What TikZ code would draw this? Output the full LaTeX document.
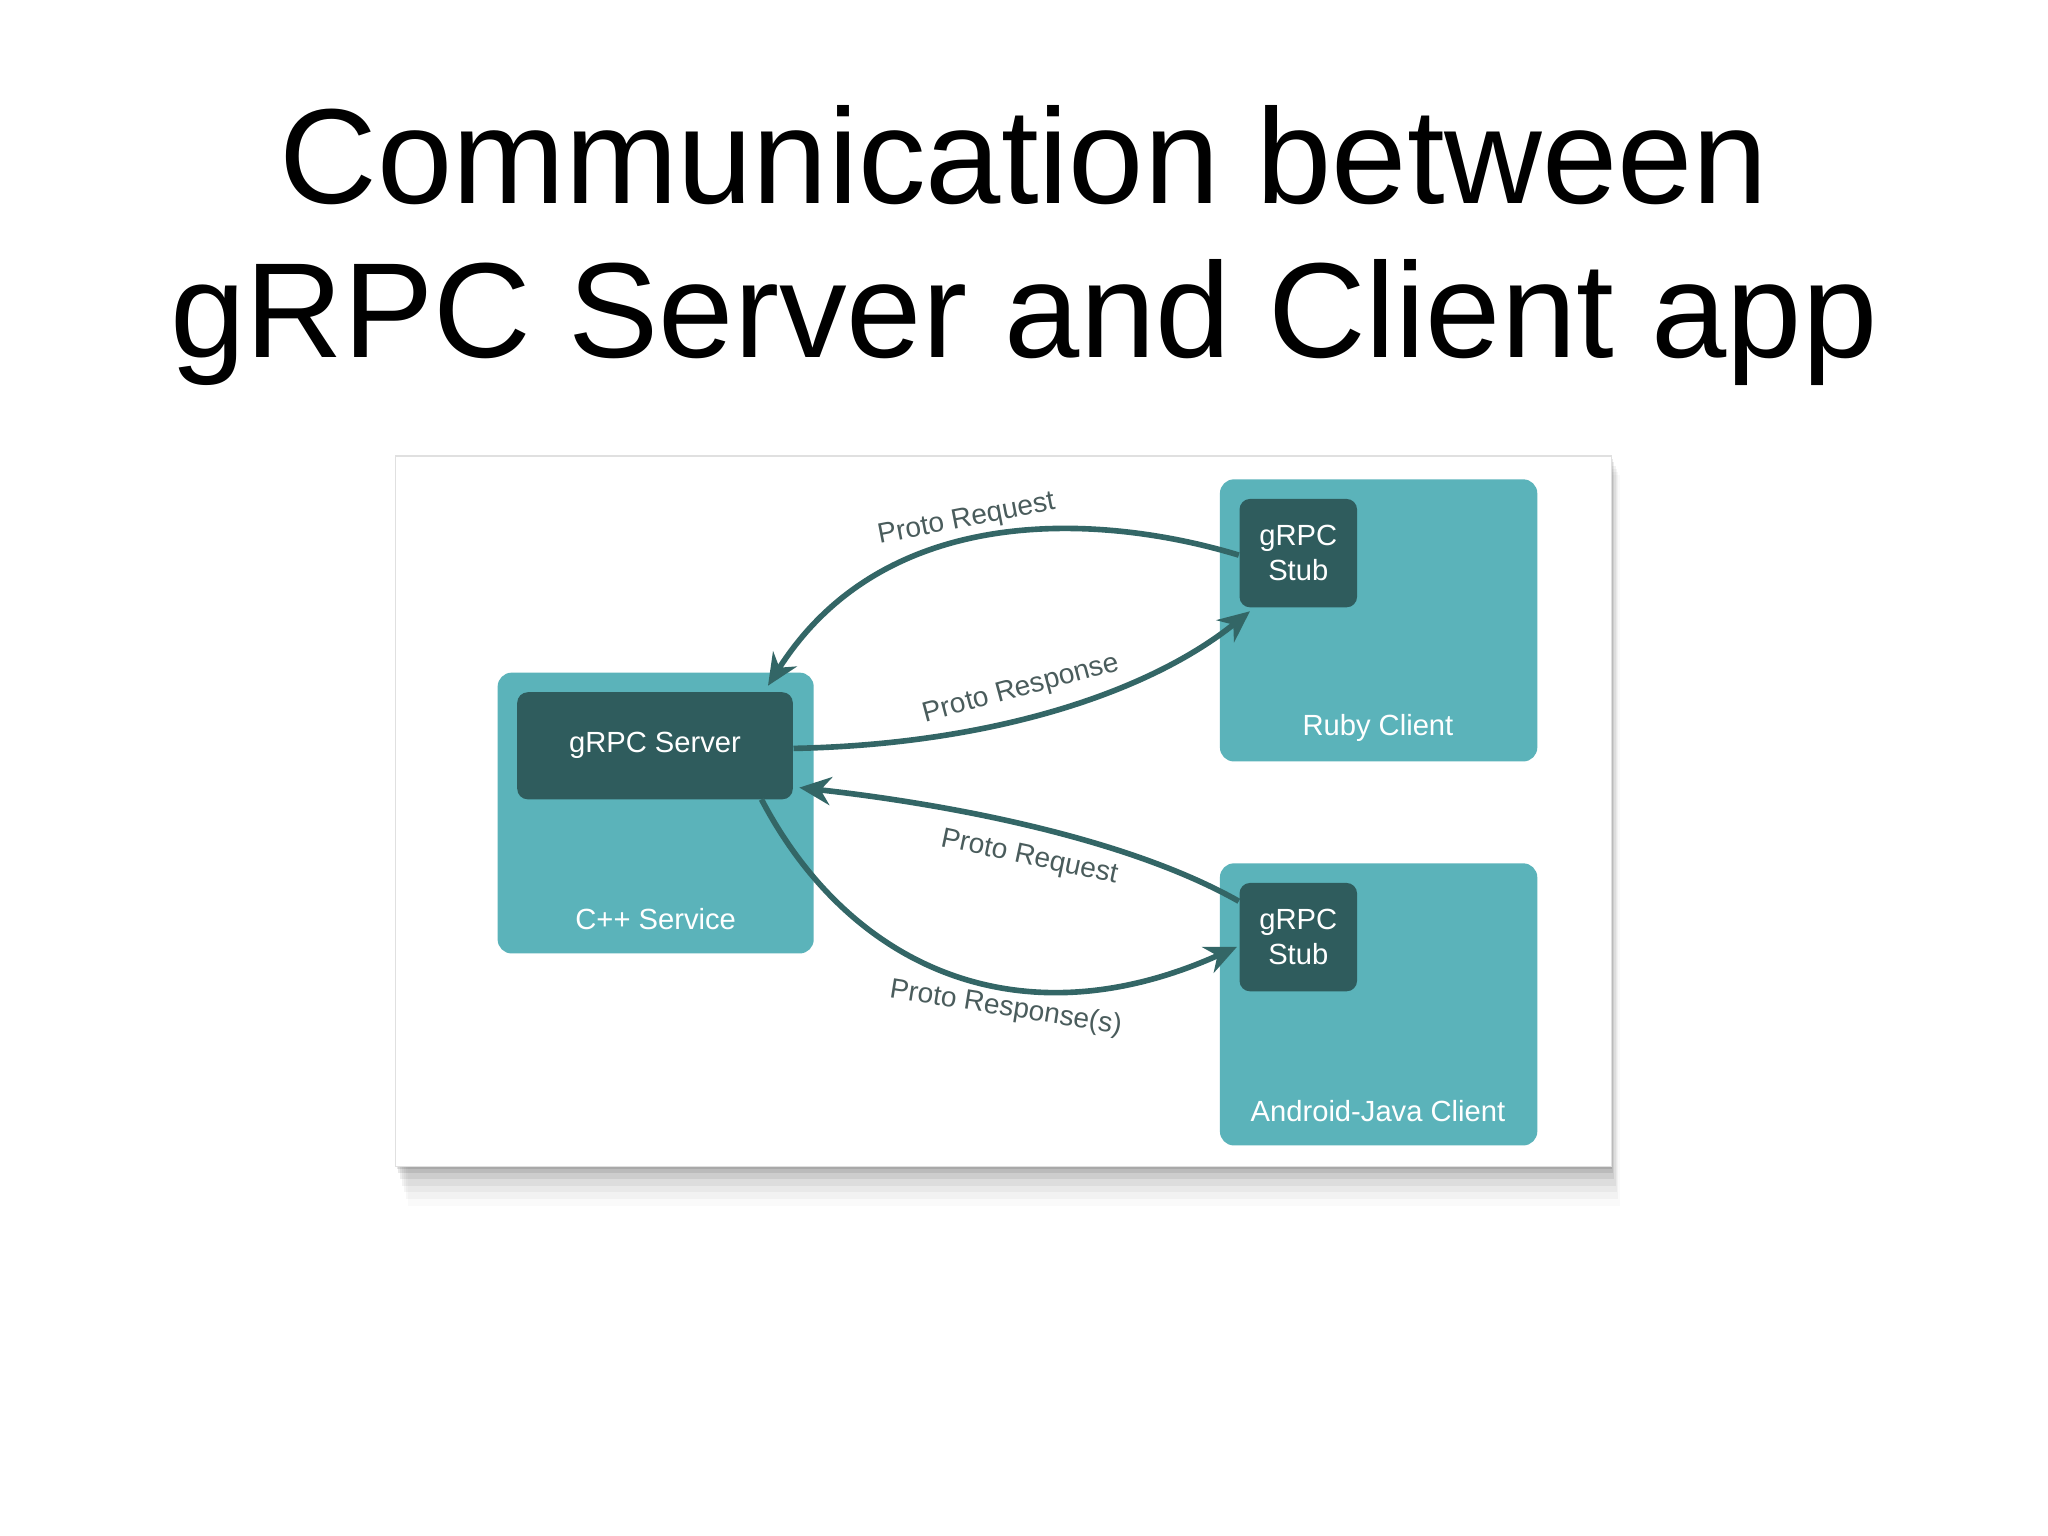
\documentclass[tikz,border=0pt]{standalone}
\usepackage{fontspec}
\setmainfont{Liberation Sans}
\usetikzlibrary{arrows.meta,shadows,calc}
\definecolor{teal1}{HTML}{5BB3BA}
\definecolor{dark1}{HTML}{2F5C5D}
\definecolor{arr}{HTML}{336666}
\definecolor{lbl}{HTML}{4A5C5C}
\begin{document}
\begin{tikzpicture}[x=0.01306cm,y=-0.01306cm,
  light/.style={fill=teal1,rounded corners=4pt,draw=none},
  darkb/.style={fill=dark1,rounded corners=3pt,draw=none},
  wt/.style={text=white,font=\fontsize{8.3}{10}\selectfont,align=center},
  con/.style={draw=arr,line width=1.6pt,-{Stealth[length=9pt,width=8pt]}},
  lab/.style={text=lbl,font=\fontsize{8}{9}\selectfont}]
\useasboundingbox (0,0) rectangle (1568,1176);
\node[font=\fontsize{38.5}{44}\selectfont,align=center] (title) at (784,188) {Communication between\\gRPC Server and Client app};
\foreach \i/\o in {30/0.02,25/0.03,20/0.04,15/0.05,10/0.07,5/0.09,2/0.1}
  \fill[black,opacity=\o] (303+\i*0.3,349+\i*0.5) rectangle (1234+\i*0.2,893+\i);
\fill[white] (303,349) rectangle (1234,893);
\draw[black!12] (303,349) rectangle (1234,893);
\fill[light] (381,515) rectangle (623,730);
\fill[light] (934,367) rectangle (1177,583);
\fill[light] (934,661) rectangle (1177,877);
\node[darkb,minimum width=211*0.01306cm,minimum height=82*0.01306cm,wt] (srv) at (501.5,571) {gRPC Server};
\node[darkb,minimum width=90*0.01306cm,minimum height=83*0.01306cm,wt] (stub1) at (994,423.5) {gRPC\\Stub};
\node[darkb,minimum width=90*0.01306cm,minimum height=83*0.01306cm,wt] (stub2) at (994,717.5) {gRPC\\Stub};
\node[wt] (cpp) at (502,704) {C++ Service};
\node[wt] (ruby) at (1055,557) {Ruby Client};
\node[wt] (andr) at (1055,851) {Android-Java Client};
\draw[con] (stub1.west |- 0,425) .. controls (850,395) and (680,380) .. (588,525);
\draw[con] (srv.east |- 0,573) .. controls (760,570) and (880,530) .. (957,468);
\draw[con] (stub2.west |- 0,690) .. controls (860,640) and (720,615) .. (612,603);
\draw[con] (583,612) .. controls (650,740) and (780,800) .. (947,725);
\node[lab,rotate=11] (l1) at (740,398) {Proto Request};
\node[lab,rotate=15] (l2) at (782,528) {Proto Response};
\node[lab,rotate=-12] (l3) at (788,657) {Proto Request};
\node[lab,rotate=-9] (l4) at (770,772) {Proto Response(s)};
\end{tikzpicture}
\end{document}
